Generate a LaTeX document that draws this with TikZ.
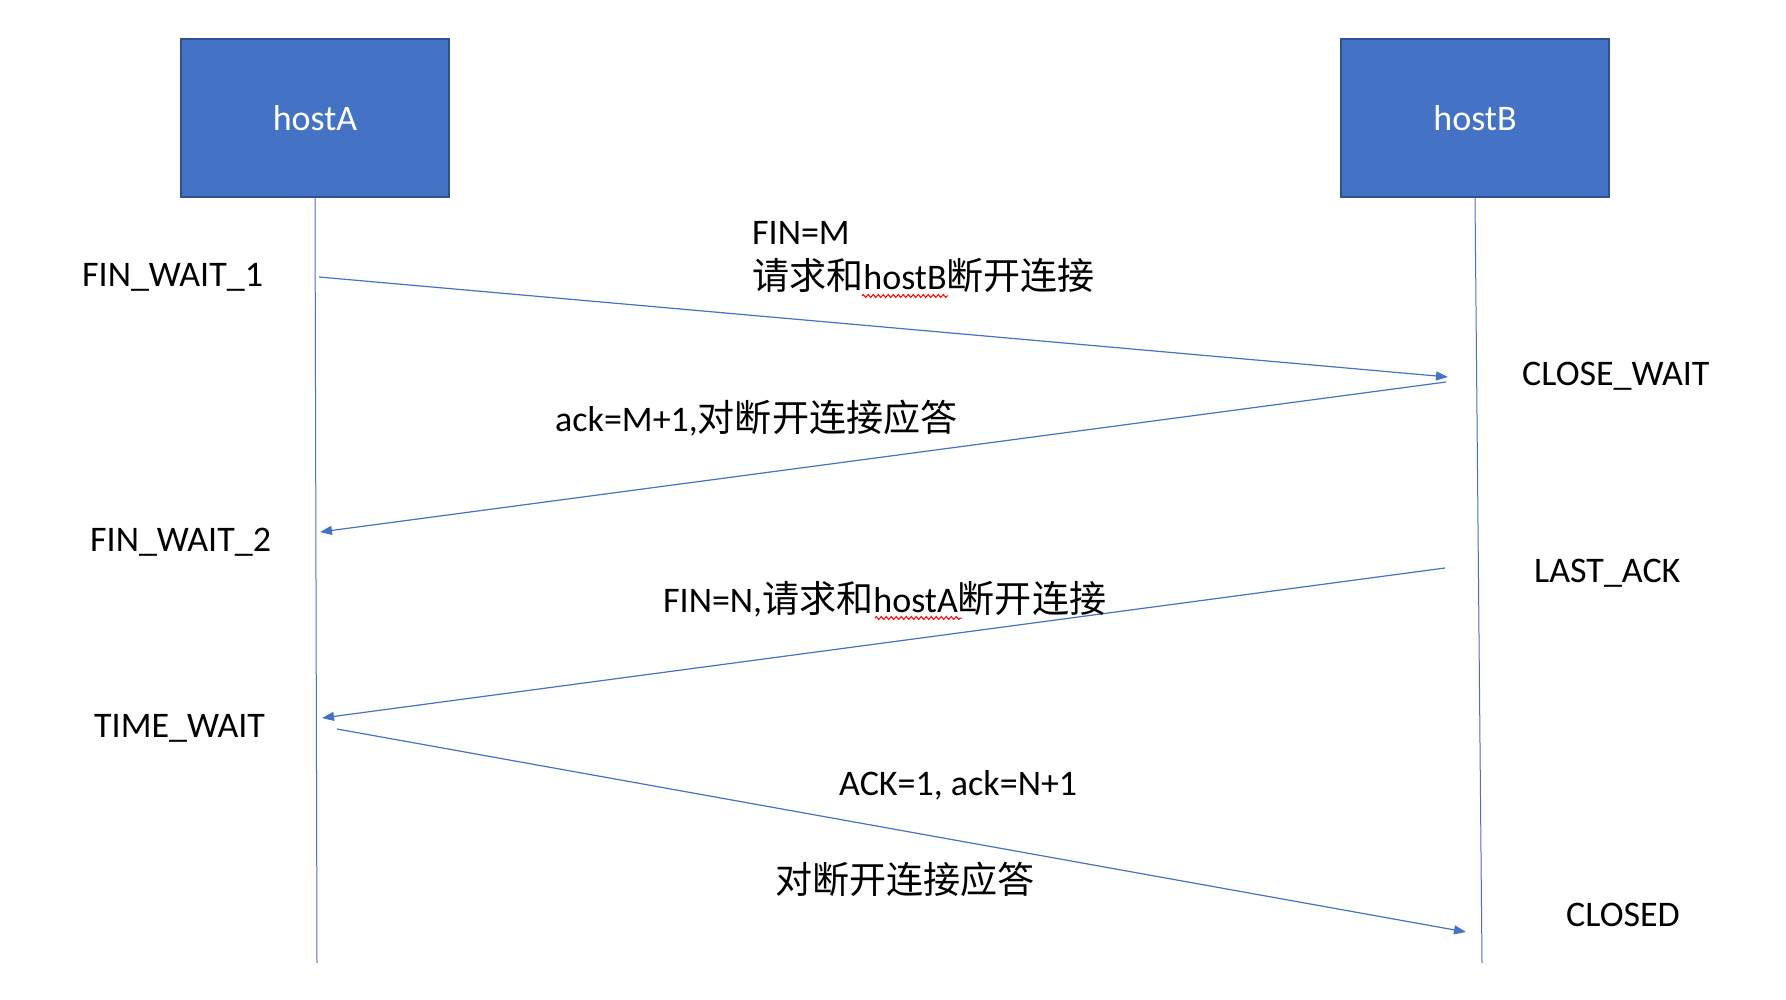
\documentclass[tikz,border=0pt]{standalone}
\usepackage{fontspec}
\setmainfont{Carlito}
\newfontfamily\cjk[Scale=1.03]{Noto Sans CJK SC}
\usetikzlibrary{arrows.meta,decorations.pathmorphing}
\definecolor{hostblue}{HTML}{4472C4}
\definecolor{hostedge}{HTML}{2F528F}
\newcommand{\zh}[1]{{\cjk #1}}
\tikzset{
  host/.style={draw=hostedge, line width=2pt, fill=hostblue, text=white, minimum width=268pt, minimum height=158pt, inner sep=0pt},
  lifeline/.style={draw=hostblue, line width=1pt},
  msg/.style={draw=hostblue, line width=1.2pt, -{Triangle[length=12pt,width=9pt]}},
  state/.style={anchor=base west, inner sep=0pt},
  squiggle/.style={draw=red, line width=1pt, decorate, decoration={zigzag, amplitude=1.5pt, segment length=5pt}}
}
\begin{document}
\begin{tikzpicture}[x=1pt,y=-1pt,font=\fontsize{36}{43}\selectfont]
\useasboundingbox (0,0) rectangle (1786,1000);

%the two hosts and their lifelines
\node [host] (hostA) at (315,118) {hostA};
\node [host] (hostB) at (1475,118) {hostB};
\coordinate (endA) at (317,963);
\coordinate (endB) at (1482,963);
\draw [lifeline] (hostA.south) -- (endA);
\draw [lifeline] (hostB.south) -- (endB);

%end points of the four messages
\coordinate (finMfrom) at (319,277);
\coordinate (finMto) at (1448,377);
\coordinate (ackMfrom) at (1446,382);
\coordinate (ackMto) at (320,532);
\coordinate (finNfrom) at (1445,568);
\coordinate (finNto) at (322,718);
\coordinate (ackNfrom) at (337,729);
\coordinate (ackNto) at (1466,932);

\draw [msg] (finMfrom) -- (finMto);
\draw [msg] (ackMfrom) -- (ackMto);
\draw [msg] (finNfrom) -- (finNto);
\draw [msg] (ackNfrom) -- (ackNto);

%states of hostA
\node [state] (finwait1) at (82,287) {FIN\_WAIT\_1};
\node [state] (finwait2) at (90,551) {FIN\_WAIT\_2};
\node [state] (timewait) at (94,737) {TIME\_WAIT};

%states of hostB
\node [state] (closewait) at (1522,385) {CLOSE\_WAIT};
\node [state] (lastack) at (1534,582) {LAST\_ACK};
\node [state] (closed) at (1566,926) {CLOSED};

%message labels
\node [state] (finMlabel) at (752,245) {FIN=M};
\node [state] (reqBlabel) at (752,290) {\zh{请求和}hostB\zh{断开连接}};
\node [state] (ackMlabel) at (555,431) {ack=M+1,\zh{对断开连接应答}};
\node [state] (finNlabel) at (663,612) {FIN=N,\zh{请求和}hostA\zh{断开连接}};
\node [state] (ackNlabel) at (839,795) {ACK=1, ack=N+1};
\node [state] (replylabel) at (775,893) {\zh{对断开连接应答}};

%spell check marks
\draw [squiggle] (862,296) -- (948,296);
\draw [squiggle] (875,618) -- (962,618);

\end{tikzpicture}
\end{document}
